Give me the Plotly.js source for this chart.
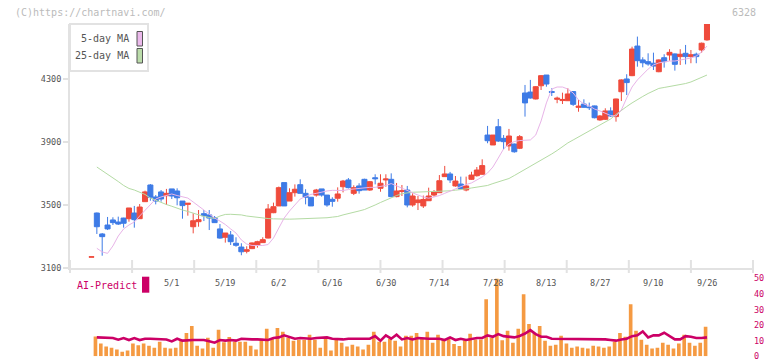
<!DOCTYPE html>
<html><head><meta charset="utf-8">
<script src="https://cdn.plot.ly/plotly-3.0.1.min.js"></script>
<style>html,body{margin:0;padding:0;background:#fff;}#chart{width:772px;height:361px;}</style>
</head><body><div id="chart"></div>
<script>
// ---- data ----
const openP = [3169,3449,3316,3373,3405,3392,3417,3413,3449,3413,3521,3627,3551,3583,3559,3602,3589,3525,3504,3362,
3394,3445,3437,3419,3348,3295,3310,3257,3233,3206,3223,3246,3261,3290,3451,3494,3642,3525,3578,3629,
3574,3549,3563,3602,3563,3536,3543,3616,3659,3574,3621,3663,3595,3673,3606,3659,3663,3553,3586,3595,
3500,3515,3494,3527,3563,3578,3680,3697,3621,3633,3595,3663,3686,3695,3944,3881,3997,3923,3875,3887,
3860,4211,4217,4173,4257,4325,4220,4171,4163,4162,4220,4120,4141,4122,4129,4040,4044,4097,4061,4219,
4300,4321,4509,4421,4410,4400,4346,4435,4452,4459,4442,4463,4442,4457,4484,4548];
const highP = [3171,3452,3322,3424,3422,3426,3419,3481,3494,3506,3591,3633,3563,3595,3602,3602,3606,3525,3511,3447,
3468,3468,3468,3430,3379,3322,3335,3295,3257,3238,3262,3273,3295,3506,3515,3617,3642,3606,3631,3663,
3600,3549,3602,3602,3563,3549,3612,3659,3671,3625,3638,3667,3652,3695,3695,3695,3701,3640,3627,3621,
3574,3557,3560,3610,3595,3690,3748,3710,3684,3680,3680,3711,3741,3790,4002,3944,4046,3944,3983,3890,
3944,4262,4294,4255,4325,4325,4241,4188,4213,4241,4222,4167,4171,4150,4131,4071,4114,4120,4175,4298,
4330,4505,4569,4438,4463,4467,4424,4457,4489,4462,4489,4516,4484,4467,4531,4649];
const lowP = [3169,3316,3178,3341,3373,3373,3356,3394,3356,3413,3521,3527,3504,3521,3500,3538,3498,3413,3432,3320,
3362,3398,3341,3388,3286,3261,3246,3235,3181,3193,3220,3229,3261,3288,3448,3494,3494,3525,3553,3574,
3504,3494,3553,3553,3489,3489,3521,3580,3605,3563,3572,3595,3590,3631,3584,3616,3549,3549,3557,3485,
3489,3468,3481,3527,3553,3578,3680,3640,3616,3600,3587,3659,3680,3692,3892,3881,3900,3854,3845,3832,
3855,4061,4175,4170,4230,4251,4192,4146,4141,4160,4129,4092,4118,4103,4050,4035,4040,4060,4029,4160,
4198,4318,4378,4374,4384,4357,4343,4372,4416,4353,4389,4393,4400,4400,4467,4543];
const closeP = [3171,3362,3299,3348,3388,3379,3384,3481,3407,3487,3583,3549,3525,3538,3574,3557,3546,3496,3511,3400,
3407,3432,3417,3388,3290,3322,3267,3244,3203,3216,3259,3267,3280,3475,3489,3610,3494,3578,3600,3574,
3549,3494,3595,3563,3500,3523,3570,3652,3610,3610,3591,3595,3648,3667,3638,3665,3553,3589,3590,3500,
3557,3532,3535,3557,3584,3654,3697,3659,3652,3602,3621,3690,3722,3750,3908,3944,3906,3902,3938,3838,
3934,4148,4179,4251,4321,4268,4215,4178,4170,4205,4139,4127,4120,4118,4054,4065,4097,4065,4173,4294,
4277,4490,4416,4403,4395,4382,4421,4410,4469,4393,4457,4442,4454,4442,4527,4649];
const ma5 = [null,3225,3202,3193,3240,3303,3348,3373,3392,3430,3468,3506,3538,3551,3560,3570,3560,3551,3544,3519,
3494,3468,3443,3417,3398,3376,3348,3322,3278,3252,3243,3242,3243,3249,3290,3354,3417,3462,3503,3538,
3554,3567,3574,3583,3589,3593,3592,3592,3598,3602,3606,3610,3612,3612,3616,3624,3636,3621,3605,3595,
3579,3563,3551,3543,3551,3560,3574,3589,3605,3616,3630,3640,3659,3678,3703,3741,3798,3856,3887,3903,
3909,3909,3913,3944,4033,4148,4236,4249,4249,4236,4211,4167,4141,4129,4109,4097,4081,4068,4065,4103,
4179,4249,4294,4332,4363,4389,4402,4408,4414,4414,4421,4427,4433,4446,4471,4509];
const ma25 = [null,3741,3719,3697,3675,3649,3624,3605,3595,3579,3567,3544,3529,3516,3503,3492,3478,3468,3459,3447,
3437,3427,3421,3414,3430,3440,3441,3441,3437,3430,3425,3422,3417,3414,3412,3410,3409,3410,3411,3412,
3413,3414,3415,3416,3419,3423,3427,3437,3444,3452,3462,3471,3484,3500,3516,3532,3544,3560,3572,3578,
3581,3582,3583,3583,3584,3585,3585,3590,3594,3596,3602,3608,3612,3617,3624,3636,3646,3656,3668,3687,
3706,3725,3744,3763,3783,3802,3824,3846,3871,3894,3913,3932,3951,3970,3992,4011,4027,4046,4075,4103,
4125,4148,4170,4189,4208,4224,4240,4246,4252,4259,4265,4271,4281,4294,4309,4325];
const volume = [null,12.7,8.1,6.2,5.5,4.3,2.8,3.6,8.1,7.0,8.1,6.8,5.5,9.3,5.5,4.9,5.5,10.2,15.0,19.5,
6.8,4.9,11.9,5.5,17.0,8.9,12.3,9.3,9.3,9.3,6.8,4.3,11.3,17.6,11.3,18.2,15.7,11.9,10.0,10.6,
10.6,13.8,10.6,5.5,11.9,3.6,10.6,8.7,6.2,7.4,6.2,4.3,7.4,15.7,9.3,9.3,11.3,10.0,6.2,13.1,
13.1,15.0,11.3,15.7,8.7,13.8,10.9,11.3,7.8,6.5,10.2,14.4,10.8,10.8,36.7,11.9,50.0,10.2,16.3,8.7,
17.6,39.9,20.8,14.8,19.5,10.0,6.8,7.4,13.1,8.1,5.5,6.2,5.5,4.9,6.8,6.2,5.5,6.2,9.3,15.0,
12.5,33.5,16.3,10.6,7.4,4.9,5.5,8.7,7.4,4.9,8.1,13.8,8.7,6.8,8.7,18.9];
const aiPredict = [null,12.1,12.1,12.1,11.7,10.6,11.7,10.4,11.7,10.4,11.25,11.25,11.25,11.25,10.8,9.55,11.25,10.0,10.4,10.4,
10.4,10.4,9.55,8.7,10.4,10.0,10.4,10.0,11.25,10.8,10.8,10.8,10.8,10.4,11.7,12.1,13.4,12.1,11.25,11.7,
11.25,11.25,11.7,11.7,12.1,11.25,10.8,10.8,11.25,11.25,11.25,11.25,11.25,12.9,10.0,13.4,11.25,13.8,10.8,11.7,
10.8,11.7,11.25,11.25,11.25,11.25,10.4,12.1,10.4,11.25,10.4,11.25,11.7,11.7,13.4,12.5,14.2,12.9,12.5,12.1,
13.0,14.6,16.8,14.2,12.5,12.5,11.25,11.25,11.25,11.0,10.8,10.8,10.8,11.25,11.25,10.8,10.8,10.4,10.0,10.8,
11.25,12.9,13.4,15.9,12.1,13.4,13.4,15.1,12.9,10.8,10.8,12.9,12.5,11.7,11.7,12.1];
const dateLabels = ['5/1','5/19','6/2','6/16','6/30','7/14','7/28','8/13','8/27','9/10','9/26'];
const dateLabelIdx = [15,25,35,45,55,65,75,85,95,105,115];
const yTicks = [3100,3500,3900,4300];
const y2Ticks = [0,10,20,30,40,50];

// ---- layout helpers (pixel positions) ----
const W = 772, H = 361;
const px = v => v / W;
const py = v => 1 - v / H;
const left = 70, right = 753;
const x0pix = 91.5, step = 5.352;
const xRange = [(left - x0pix) / step, (right - x0pix) / step];
const idx = openP.map((_, i) => i);
const mono = 'DejaVu Sans Mono';
const axisGray = '#e2e2e2';

const traces = [
  {type:'scatter', mode:'lines', x: idx, y: ma25, xaxis:'x', yaxis:'y',
   line:{color:'#b4dba4', width:1}, hoverinfo:'skip'},
  {type:'scatter', mode:'lines', x: idx, y: ma5, xaxis:'x', yaxis:'y',
   line:{color:'#e8b4e8', width:1}, hoverinfo:'skip'},
  {type:'candlestick', x: idx, open: openP, high: highP, low: lowP, close: closeP,
   xaxis:'x', yaxis:'y', whiskerwidth:0,
   increasing:{line:{color:'#ef4b3c', width:1}, fillcolor:'#ef4b3c'},
   decreasing:{line:{color:'#3e7be6', width:1}, fillcolor:'#3e7be6'}},
  {type:'bar', x: idx, y: volume, xaxis:'x2', yaxis:'y2', width:0.68, offset:-0.6,
   marker:{color:'#f59a42', line:{width:0}}, hoverinfo:'skip'},
  {type:'scatter', mode:'lines', x: idx, y: aiPredict, xaxis:'x2', yaxis:'y2',
   line:{color:'#cc0066', width:2.6}, hoverinfo:'skip'}
];

const shapes = [];
for (let k = 0; k <= 11; k++) {
  const xp = left + k * (right - left) / 11;
  shapes.push({type:'line', xref:'paper', yref:'paper', x0:px(xp), x1:px(xp), y0:py(273), y1:py(260),
               line:{color:axisGray, width:2}});
}
shapes.push({type:'rect', xref:'paper', yref:'paper', x0:px(70), x1:px(148), y0:py(71), y1:py(24),
             fillcolor:'#ffffff', line:{color:axisGray, width:2}});
shapes.push({type:'rect', xref:'paper', yref:'paper', x0:px(137), x1:px(142.5), y0:py(46), y1:py(31.5),
             fillcolor:'#ebb9eb', line:{color:'#555', width:1}});
shapes.push({type:'rect', xref:'paper', yref:'paper', x0:px(137), x1:px(142.5), y0:py(63), y1:py(48.5),
             fillcolor:'#bbdcaa', line:{color:'#555', width:1}});
shapes.push({type:'rect', xref:'paper', yref:'paper', x0:px(142), x1:px(149.3), y0:py(292.7), y1:py(276.7),
             fillcolor:'#cc0066', line:{width:0}});

const annotations = [
  {xref:'paper', yref:'paper', x:px(13), y:py(12.5), xanchor:'left', yanchor:'middle', showarrow:false,
   text:'(C)https://chartnavi.com/', font:{family:mono, size:10, color:'#bbbbbb'}},
  {xref:'paper', yref:'paper', x:px(758), y:py(12.5), xanchor:'right', yanchor:'middle', showarrow:false,
   text:'6328', font:{family:mono, size:10, color:'#bbbbbb'}},
  {xref:'paper', yref:'paper', x:px(131), y:py(38.5), xanchor:'right', yanchor:'middle', showarrow:false,
   text:'5-day MA', font:{family:mono, size:10, color:'#555'}},
  {xref:'paper', yref:'paper', x:px(131), y:py(56), xanchor:'right', yanchor:'middle', showarrow:false,
   text:'25-day MA', font:{family:mono, size:10, color:'#555'}},
  {xref:'paper', yref:'paper', x:px(75), y:py(285.5), xanchor:'left', yanchor:'middle', showarrow:false,
   text:'AI-Predict', font:{family:mono, size:10, color:'#cc0066'}}
];
dateLabels.forEach((t, k) => annotations.push({
  xref:'x', yref:'paper', x: dateLabelIdx[k], y: py(282.5), xanchor:'center', yanchor:'middle',
  showarrow:false, text:t, font:{family:mono, size:8.5, color:'#555'}}));

const layout = {
  width: W, height: H, margin:{l:0, r:0, t:0, b:0},
  paper_bgcolor:'#ffffff', plot_bgcolor:'#ffffff', showlegend:false,
  boxgap:0.03, boxgroupgap:0.03,
  xaxis:{domain:[px(left), px(right)], range:xRange, anchor:'y', showline:true, linecolor:axisGray, linewidth:2,
         showgrid:false, zeroline:false, showticklabels:false, ticks:'', rangeslider:{visible:false}, fixedrange:true},
  yaxis:{domain:[py(268), py(24)], range:[3100, 4649], anchor:'x', tickvals:yTicks, ticks:'outside', ticklen:5,
         tickcolor:axisGray, tickwidth:2, showline:true, linecolor:axisGray, linewidth:2, showgrid:false, zeroline:false,
         tickfont:{family:mono, size:8.5, color:'#555'}, fixedrange:true},
  xaxis2:{domain:[px(left), px(right)], range:xRange, anchor:'y2', visible:false, fixedrange:true},
  yaxis2:{domain:[py(356.2), py(278.5)], range:[0, 50], anchor:'x2', side:'right', tickvals:y2Ticks, ticks:'',
          ticklabeloverflow:'allow',
          showline:false, showgrid:false, zeroline:false, tickfont:{family:mono, size:8.5, color:'#cc0066'}, fixedrange:true},
  shapes, annotations
};

Plotly.newPlot('chart', traces, layout, {staticPlot:true, displayModeBar:false});
</script></body></html>
